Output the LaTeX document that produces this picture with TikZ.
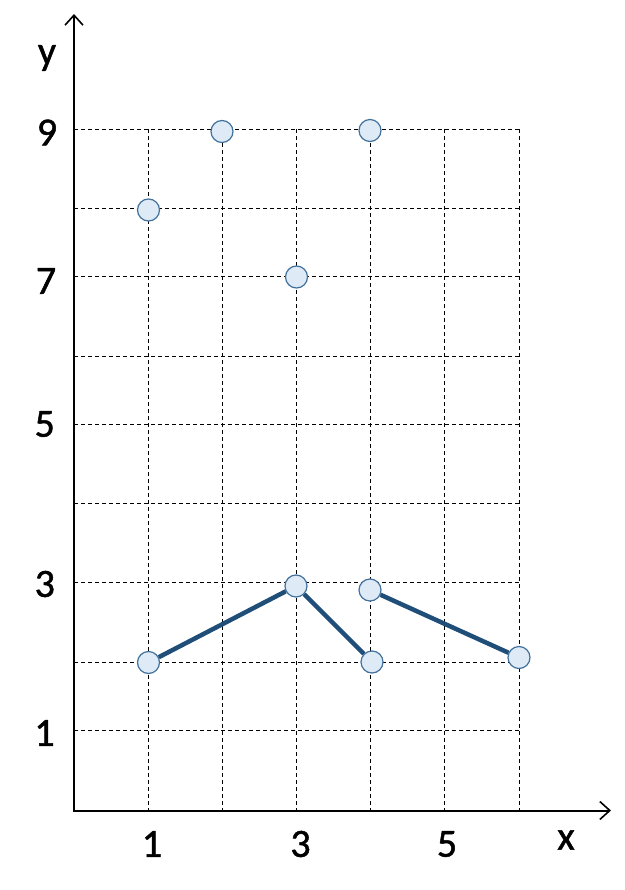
\documentclass[tikz,border=0pt]{standalone}
\usepackage{fontspec}
\setmainfont{Carlito}
\newfontfamily\lblfont{Carlito}[FakeBold=1.2]
\usetikzlibrary{arrows.meta}
\definecolor{ptfill}{HTML}{DEEAF6}
\definecolor{ptdraw}{HTML}{41719C}
\definecolor{linkc}{HTML}{1F4E79}
\tikzset{
  gridline/.style={black, line width=0.9pt, dash pattern=on 4pt off 3pt},
  axisline/.style={black, line width=2pt, -{Straight Barb[length=10pt,width=18pt,line width=1.6pt]}},
  pt/.style={circle, draw=ptdraw, fill=ptfill, line width=1.2pt, minimum size=22pt, inner sep=0pt},
  link/.style={linkc, line width=4.5pt},
  lbl/.style={inner sep=0pt, font=\lblfont\fontsize{40}{44}\selectfont}
}
\begin{document}
\begin{tikzpicture}[x=1pt,y=-1pt]
\useasboundingbox (0,0) rectangle (624,890);
% grid
\foreach \gx in {148.7,222.7,296.3,370.3,444.3,519.3}
  \draw[gridline] (\gx,129.3) -- (\gx,810);
\foreach \gy in {129.3,208.3,276.3,356.7,424.3,503,582.3,662.3,730.3}
  \draw[gridline] (74,\gy) -- (519.3,\gy);
% axes
\coordinate (yend) at (74,14);
\coordinate (xend) at (611,810.5);
\draw[axisline] (74,811.5) -- (yend);
\draw[axisline] (73,810.5) -- (xend);
% points
\node[pt] (p1) at (148.5,210) {};
\node[pt] (p2) at (222,131.5) {};
\node[pt] (p3) at (370,130.5) {};
\node[pt] (p4) at (296.5,277) {};
\node[pt] (p5) at (296,586) {};
\node[pt] (p6) at (370,590) {};
\node[pt] (p7) at (148.5,662.5) {};
\node[pt] (p8) at (372,662) {};
\node[pt] (p9) at (519,657.5) {};
% links
\draw[link] (p7) -- (p5);
\draw[link] (p5) -- (p8);
\draw[link] (p6) -- (p9);
% labels
\node[lbl] (ly) at (47,58) {y};
\node[lbl] (l9) at (47,132.5) {9};
\node[lbl] (l7) at (46,281) {7};
\node[lbl] (l5) at (44.7,424) {5};
\node[lbl] (l3) at (44.8,584) {3};
\node[lbl] (l1) at (44.5,733) {1};
\node[lbl] (x1) at (152,844) {1};
\node[lbl] (x3) at (300.5,844) {3};
\node[lbl] (x5) at (447,844) {5};
\node[lbl] (lx) at (566,840) {x};
\end{tikzpicture}
\end{document}
